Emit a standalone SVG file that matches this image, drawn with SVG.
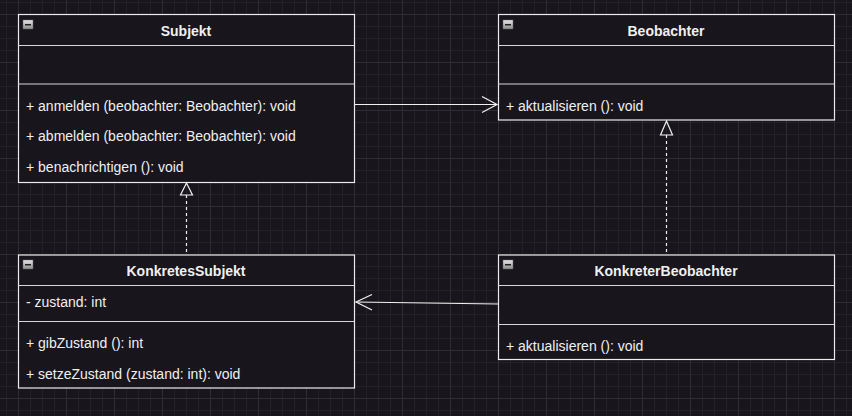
<svg xmlns="http://www.w3.org/2000/svg" width="852" height="416" viewBox="0 0 852 416">
<defs>
<pattern id="minor" x="6" y="2" width="12" height="12" patternUnits="userSpaceOnUse">
<path d="M0 0.5H12M0.5 0V12" stroke="#232128" stroke-width="1" fill="none"/>
</pattern>
<pattern id="major" x="18" y="14" width="48" height="48" patternUnits="userSpaceOnUse">
<path d="M0 0.5H48M0.5 0V48" stroke="#2f2d34" stroke-width="1" fill="none"/>
</pattern>
<linearGradient id="ic" x1="0" y1="0" x2="0" y2="1">
<stop offset="0" stop-color="#e8e8e8"/>
<stop offset="1" stop-color="#8a8a8a"/>
</linearGradient>
<g id="icon">
<rect x="0" y="0" width="10" height="9" fill="url(#ic)" stroke="#6a6a6a" stroke-width="0.5"/>
<rect x="2" y="4" width="6" height="1.5" fill="#222"/>
</g>
</defs>
<style>
.box{fill:#18151d;stroke:#ececec;stroke-width:1.2}
.sep{stroke:#d8d8d8;stroke-width:1.2}
.title{font-family:"Liberation Sans",Arial,sans-serif;font-size:14px;font-weight:bold;fill:#f0f0f0;text-anchor:middle}
.mem{font-family:"Liberation Sans",Arial,sans-serif;font-size:14px;fill:#f0f0f0}
.conn{stroke:#f0f0f0;stroke-width:1.2;fill:none}
.dash{stroke-dasharray:3 3}
</style>
<rect width="852" height="416" fill="#18161c"/>
<rect width="852" height="416" fill="url(#minor)"/>
<rect width="852" height="416" fill="url(#major)"/>

<g id="Subjekt">
<rect class="box" x="18.5" y="14.5" width="336" height="168"/>
<line class="sep" x1="18.5" y1="45.5" x2="354.5" y2="45.5"/>
<line class="sep" x1="18.5" y1="84" x2="354.5" y2="84"/>
<use href="#icon" x="23" y="20"/>
<text class="title" x="186" y="36">Subjekt</text>
<text class="mem" x="26" y="111">+ anmelden (beobachter: Beobachter): void</text>
<text class="mem" x="26" y="141">+ abmelden (beobachter: Beobachter): void</text>
<text class="mem" x="26" y="172">+ benachrichtigen (): void</text>
</g>

<g id="Beobachter">
<rect class="box" x="498.5" y="14.5" width="336" height="105.5"/>
<line class="sep" x1="498.5" y1="45.5" x2="834.5" y2="45.5"/>
<line class="sep" x1="498.5" y1="84" x2="834.5" y2="84"/>
<use href="#icon" x="503" y="20"/>
<text class="title" x="666" y="36">Beobachter</text>
<text class="mem" x="506" y="111">+ aktualisieren (): void</text>
</g>

<g id="KonkretesSubjekt">
<rect class="box" x="18.5" y="255" width="336" height="133"/>
<line class="sep" x1="18.5" y1="285.5" x2="354.5" y2="285.5"/>
<line class="sep" x1="18.5" y1="321.5" x2="354.5" y2="321.5"/>
<use href="#icon" x="23" y="260"/>
<text class="title" x="186" y="276">KonkretesSubjekt</text>
<text class="mem" x="26" y="307">- zustand: int</text>
<text class="mem" x="26" y="348">+ gibZustand (): int</text>
<text class="mem" x="26" y="379">+ setzeZustand (zustand: int): void</text>
</g>

<g id="KonkreterBeobachter">
<rect class="box" x="498.5" y="255" width="336" height="104.5"/>
<line class="sep" x1="498.5" y1="285.5" x2="834.5" y2="285.5"/>
<line class="sep" x1="498.5" y1="324.5" x2="834.5" y2="324.5"/>
<use href="#icon" x="503" y="260"/>
<text class="title" x="666" y="276">KonkreterBeobachter</text>
<text class="mem" x="506" y="351">+ aktualisieren (): void</text>
</g>

<g id="connectors">
<line class="conn" x1="355" y1="104.5" x2="497" y2="104.5"/>
<polyline class="conn" points="482,96.5 497,104.5 482,112.5"/>
<line class="conn" x1="498" y1="304" x2="356" y2="302"/>
<polyline class="conn" points="372,294.5 356,302 372,310"/>
<line class="conn dash" x1="186.5" y1="195" x2="186.5" y2="255"/>
<polygon class="conn" points="186.5,183 180.5,195 192.5,195" fill="#18161c"/>
<line class="conn dash" x1="666.5" y1="135" x2="666.5" y2="255"/>
<polygon class="conn" points="666.5,121 660.5,135 672.5,135" fill="#18161c"/>
</g>
</svg>
